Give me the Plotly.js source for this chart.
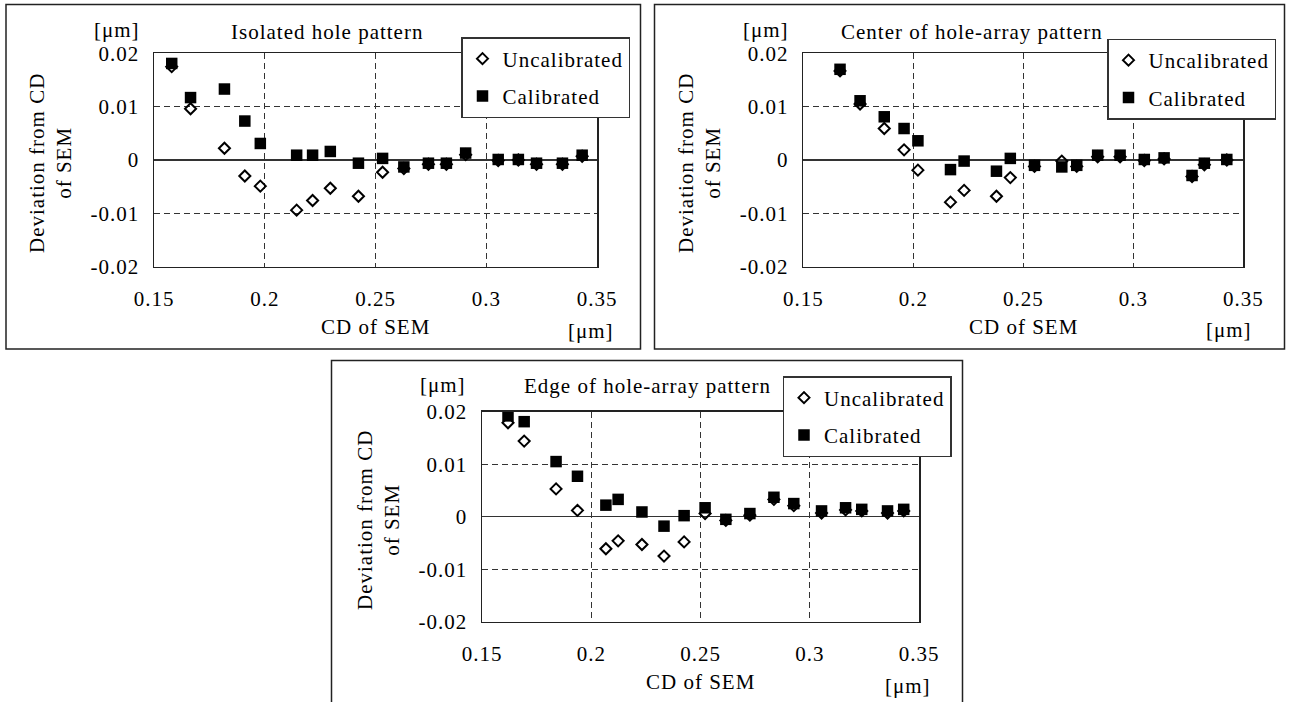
<!DOCTYPE html>
<html>
<head>
<meta charset="utf-8">
<script src="https://cdn.plot.ly/plotly-3.0.1.min.js"></script>
<style>
html,body{margin:0;padding:0;background:#fff;}
#chart{width:1289px;height:702px;}
text{letter-spacing:1px;}
</style>
</head>
<body>
<div id="chart"></div>
<script>
// ---------- data ----------
const seriesNames = ["Uncalibrated", "Calibrated"];
const panelTitles = ["Isolated hole pattern", "Center of hole-array pattern", "Edge of hole-array pattern"];
const xTickVals = [0.15, 0.2, 0.25, 0.3, 0.35];
const xTickText = ["0.15", "0.2", "0.25", "0.3", "0.35"];
const yTickVals = [-0.02, -0.01, 0, 0.01, 0.02];
const yTickText = ["-0.02", "-0.01", "0", "0.01", "0.02"];
const xAxisTitle = "CD of SEM";
const yAxisTitle = "Deviation from CD<br>of SEM";
const unitLabel = "[μm]";

// Isolated hole pattern
const p1CD = [0.158, 0.1665, 0.1818, 0.191, 0.198, 0.2144, 0.2216, 0.2296, 0.2423, 0.2532, 0.2628, 0.2739, 0.282, 0.2907, 0.3054, 0.3145, 0.3227, 0.3344, 0.3433];
const p1Uncal = [0.0175, 0.0096, 0.0022, -0.0030, -0.0049, -0.0094, -0.0076, -0.0053, -0.0068, -0.0023, -0.0016, -0.0008, -0.0008, 0.0010, -0.0001, 0.0000, -0.0008, -0.0008, 0.0007];
const p1Cal = [0.0181, 0.0117, 0.0133, 0.0073, 0.0031, 0.0009, 0.0009, 0.0016, -0.0006, 0.0003, -0.0013, -0.0006, -0.0006, 0.0013, 0.0001, 0.0001, -0.0006, -0.0006, 0.0009];

// Center of hole-array pattern
const p2CD = [0.1667, 0.1758, 0.1868, 0.1958, 0.2021, 0.2169, 0.2231, 0.2378, 0.2441, 0.2551, 0.2675, 0.2743, 0.2838, 0.294, 0.305, 0.314, 0.3267, 0.3323, 0.3425];
const p2Uncal = [0.0167, 0.0105, 0.0059, 0.0019, -0.0019, -0.0079, -0.0057, -0.0068, -0.0033, -0.0012, -0.0002, -0.0012, 0.0006, 0.0006, -0.0001, 0.0002, -0.0031, -0.0009, 0.0000];
const p2Cal = [0.0170, 0.0111, 0.0081, 0.0059, 0.0036, -0.0018, -0.0002, -0.0021, 0.0003, -0.0010, -0.0013, -0.0010, 0.0009, 0.0009, 0.0001, 0.0004, -0.0029, -0.0006, 0.0001];

// Edge of hole-array pattern
const p3CD = [0.1619, 0.1693, 0.1839, 0.1937, 0.2067, 0.2123, 0.2232, 0.2333, 0.2425, 0.2521, 0.2616, 0.2726, 0.2836, 0.2927, 0.3054, 0.3164, 0.3238, 0.3356, 0.343];
const p3Uncal = [0.0179, 0.0144, 0.0053, 0.0012, -0.0061, -0.0046, -0.0053, -0.0075, -0.0048, 0.0006, -0.0007, 0.0003, 0.0033, 0.0021, 0.0007, 0.0013, 0.0011, 0.0007, 0.0011];
const p3Cal = [0.0192, 0.0181, 0.0105, 0.0077, 0.0022, 0.0033, 0.0009, -0.0018, 0.0002, 0.0017, -0.0005, 0.0006, 0.0037, 0.0025, 0.0011, 0.0017, 0.0014, 0.0011, 0.0014];

// ---------- layout geometry (pixels) ----------
const W = 1289, H = 702;
const FONT = 'Liberation Serif, Times New Roman, serif';
const FS = 21;
const px = x => x / W;
const py = y => 1 - y / H;

const panels = [
  { cd: p1CD, unc: p1Uncal, cal: p1Cal, title: panelTitles[0],
    plot: [154, 597, 53.3, 266.7], box: [6, 640.5, 4.5, 349],
    titleXY: [327, 32], yUnitXY: [116.7, 29.5], xTitleXY: [375.5, 326.5], xUnitXY: [591, 331],
    yTitleXY: [50, 163], legendRT: [630, 37] },
  { cd: p2CD, unc: p2Uncal, cal: p2Cal, title: panelTitles[1],
    plot: [803.3, 1243.3, 53.3, 266.7], box: [654.5, 1284.5, 4.5, 349],
    titleXY: [972, 32], yUnitXY: [766, 29.5], xTitleXY: [1023.3, 326.5], xUnitXY: [1229, 330],
    yTitleXY: [699, 163], legendRT: [1276, 38.5] },
  { cd: p3CD, unc: p3Uncal, cal: p3Cal, title: panelTitles[2],
    plot: [482, 919, 411.7, 621.7], box: [331.5, 962.5, 360.5, 712],
    titleXY: [647, 386], yUnitXY: [443.3, 384.5], xTitleXY: [700.5, 681.5], xUnitXY: [908, 686],
    yTitleXY: [378, 520], legendRT: [951.5, 376] }
];

const traces = [];
const layout = {
  width: W, height: H, autosize: false,
  margin: { l: 0, r: 0, t: 0, b: 0, pad: 0 },
  paper_bgcolor: '#ffffff', plot_bgcolor: '#ffffff',
  font: { family: FONT, size: FS, color: '#000' },
  showlegend: true, hovermode: false,
  shapes: [], annotations: []
};

function ann(text, xy, extra) {
  return Object.assign({
    text: text, x: px(xy[0]), y: py(xy[1]), xref: 'paper', yref: 'paper',
    showarrow: false, xanchor: 'center', yanchor: 'middle',
    font: { family: FONT, size: FS, color: '#000' }
  }, extra || {});
}

panels.forEach((p, i) => {
  const n = i + 1;
  const xa = 'x' + (n === 1 ? '' : n), ya = 'y' + (n === 1 ? '' : n);
  const xk = 'xaxis' + (n === 1 ? '' : n), yk = 'yaxis' + (n === 1 ? '' : n);
  const lk = 'legend' + (n === 1 ? '' : n);

  traces.push({
    type: 'scatter', mode: 'markers', name: seriesNames[0],
    x: p.cd, y: p.unc, xaxis: xa, yaxis: ya, legend: lk, legendgroup: 'u' + n,
    cliponaxis: false,
    marker: { symbol: 'diamond-open', size: 8.5, color: '#000', line: { width: 2, color: '#000' } }
  });
  traces.push({
    type: 'scatter', mode: 'markers', name: seriesNames[1],
    x: p.cd, y: p.cal, xaxis: xa, yaxis: ya, legend: lk, legendgroup: 'c' + n,
    cliponaxis: false,
    marker: { symbol: 'square', size: 11.5, color: '#000', line: { width: 0 } }
  });

  layout[xk] = {
    domain: [px(p.plot[0]), px(p.plot[1])], anchor: ya,
    range: [0.15, 0.35], tickmode: 'array', tickvals: xTickVals, ticktext: xTickText,
    showgrid: true, gridcolor: '#333', gridwidth: 1, griddash: '6px,4px',
    zeroline: false, showline: true, mirror: true, linecolor: '#222', linewidth: 1.5,
    ticks: '', ticklabelstandoff: 13,
    tickfont: { family: FONT, size: FS, color: '#000' }, fixedrange: true
  };
  layout[yk] = {
    domain: [py(p.plot[3]), py(p.plot[2])], anchor: xa,
    range: [-0.02, 0.02], tickmode: 'array', tickvals: yTickVals, ticktext: yTickText,
    showgrid: true, gridcolor: '#333', gridwidth: 1, griddash: '6px,4px',
    zeroline: true, zerolinecolor: '#333', zerolinewidth: 1.5,
    showline: true, mirror: true, linecolor: '#222', linewidth: 1.5,
    ticks: '', ticklabelstandoff: 9,
    tickfont: { family: FONT, size: FS, color: '#000' }, fixedrange: true
  };
  layout[lk] = {
    x: px(p.legendRT[0]), y: py(p.legendRT[1]), xref: 'paper', yref: 'paper',
    xanchor: 'right', yanchor: 'top',
    bgcolor: '#ffffff', bordercolor: '#333', borderwidth: 1.5,
    font: { family: FONT, size: FS, color: '#000' },
    traceorder: 'grouped', tracegroupgap: 7, itemwidth: 30
  };

  layout.shapes.push({
    type: 'rect', xref: 'paper', yref: 'paper', layer: 'below',
    x0: px(p.box[0]), x1: px(p.box[1]), y0: py(p.box[3]), y1: py(p.box[2]),
    line: { color: '#222', width: 1.5 }, fillcolor: 'rgba(0,0,0,0)'
  });

  layout.annotations.push(ann(p.title, p.titleXY));
  layout.annotations.push(ann(unitLabel, p.yUnitXY));
  layout.annotations.push(ann(xAxisTitle, p.xTitleXY));
  layout.annotations.push(ann(unitLabel, p.xUnitXY));
  layout.annotations.push(ann(yAxisTitle, p.yTitleXY, { textangle: -90 }));
});

Plotly.newPlot('chart', traces, layout, { displayModeBar: false, staticPlot: true });
</script>
</body>
</html>
